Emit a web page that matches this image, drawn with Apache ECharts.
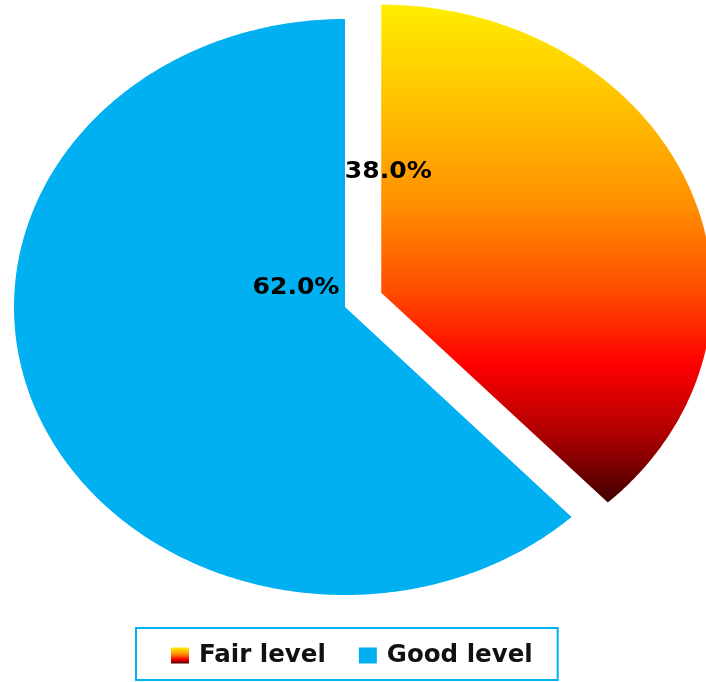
<!DOCTYPE html>
<html>
<head>
<meta charset="utf-8">
<script src="https://cdn.jsdelivr.net/npm/echarts@6/dist/echarts.min.js"></script>
<style>
html,body{margin:0;padding:0;background:#fff;}
#c{width:706px;height:682px;}
</style>
</head>
<body>
<div id="c"></div>
<script>
// ---- data ----
var categories = ['Fair level', 'Good level'];
var values = [38.0, 62.0];

// ---- layout / style (not data) ----
var CX = 345, CY = 307, RX = 331, RY = 288;
var EXPLODE = [39, 0];
var LABEL_OFF = [[7, -121], [-49, -19]];
var fairGradient = {
  type: 'linear', x: 0, y: 0, x2: 0, y2: 1,
  colorStops: [
    {offset: 0, color: '#ffee00'},
    {offset: 0.2, color: '#ffc000'},
    {offset: 0.4, color: '#ff9000'},
    {offset: 0.58, color: '#ff4a00'},
    {offset: 0.72, color: '#ff0000'},
    {offset: 0.86, color: '#b00000'},
    {offset: 1, color: '#400000'}
  ]
};
var colors = [fairGradient, '#00b0f0'];

var total = values.reduce(function (a, b) { return a + b; }, 0);

function makeRender(idx) {
  return function (params, api) {
    var v = api.value(0);
    var before = 0;
    for (var k = 0; k < idx; k++) before += values[k];
    var a0 = before / total * Math.PI * 2;
    var a1 = (before + v) / total * Math.PI * 2;
    var am = (a0 + a1) / 2;
    var ex = EXPLODE[idx];
    var vx = CX + ex * Math.sin(am);
    var vy = CY - ex * Math.cos(am);
    var pts = [[vx, vy]];
    var steps = Math.max(8, Math.ceil((a1 - a0) / (Math.PI / 360)));
    for (var s = 0; s <= steps; s++) {
      var t = a0 + (a1 - a0) * s / steps;
      pts.push([vx + RX * Math.sin(t), vy - RY * Math.cos(t)]);
    }
    return {
      type: 'group',
      children: [
        {
          type: 'polygon',
          shape: {points: pts},
          style: {fill: colors[idx], stroke: null}
        },
        {
          type: 'text',
          x: vx + LABEL_OFF[idx][0],
          y: vy + LABEL_OFF[idx][1],
          scaleX: 1.09,
          style: {
            text: v.toFixed(1) + '%',
            fill: '#000',
            font: 'bold 23px "DejaVu Sans"',
            align: 'center',
            verticalAlign: 'middle'
          },
          z2: 10
        }
      ]
    };
  };
}

var series = categories.map(function (name, i) {
  return {
    type: 'custom',
    name: name,
    coordinateSystem: 'none',
    renderItem: makeRender(i),
    itemStyle: {color: colors[i]},
    data: [[values[i]]],
    silent: true
  };
});

var chart = echarts.init(document.getElementById('c'), null, {renderer: 'canvas'});
chart.setOption({
  animation: false,
  backgroundColor: '#fff',
  legend: {
    data: categories,
    left: 136,
    top: 628,
    orient: 'horizontal',
    icon: 'rect',
    itemWidth: 18,
    itemHeight: 16,
    itemGap: 33,
    padding: [15, 25, 12, 35],
    borderColor: '#00b0f0',
    borderWidth: 2,
    textStyle: {
      color: '#111',
      fontFamily: 'DejaVu Sans',
      fontWeight: 'bold',
      fontSize: 24.5,
      padding: [0, 0, 0, 5]
    }
  },
  series: series
});
</script>
</body>
</html>
